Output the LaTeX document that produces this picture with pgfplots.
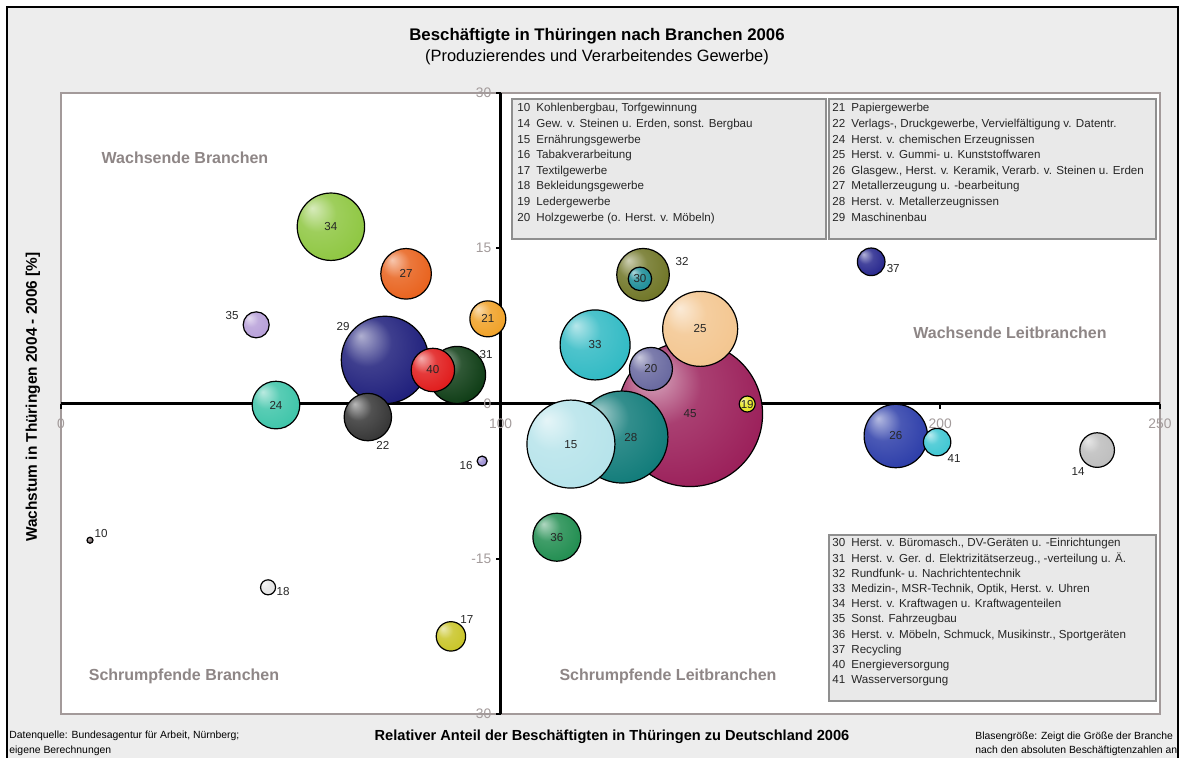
\documentclass[border=0pt]{standalone}
\usepackage{pgfplots}
\pgfplotsset{compat=1.18}
\usepackage{pgfplotstable}
\usepackage{fontspec}
\setmainfont{Liberation Sans}

\definecolor{panel}{HTML}{EDEDED}
\definecolor{plotframe}{HTML}{A39A9A}
\definecolor{ticktext}{HTML}{A39B9B}
\definecolor{quad}{HTML}{8E8686}
\definecolor{boxfill}{HTML}{E9E9E9}
\definecolor{boxline}{HTML}{8F8F8F}
\colorlet{bubc}{gray}

% bubble colours by branch number
\definecolor{b10}{HTML}{807070}
\definecolor{b14}{HTML}{BDBDBD}
\definecolor{b15}{HTML}{B5E3EA}
\definecolor{b16}{HTML}{9A8CD2}
\definecolor{b17}{HTML}{C8C424}
\definecolor{b18}{HTML}{E4E4E4}
\definecolor{b19}{HTML}{E6E61E}
\definecolor{b20}{HTML}{66669E}
\definecolor{b21}{HTML}{F0A024}
\definecolor{b22}{HTML}{333333}
\definecolor{b24}{HTML}{3CC4A8}
\definecolor{b25}{HTML}{F3C58E}
\definecolor{b26}{HTML}{2A3BA8}
\definecolor{b27}{HTML}{E8601A}
\definecolor{b28}{HTML}{0E7A78}
\definecolor{b29}{HTML}{1C1C7A}
\definecolor{b30}{HTML}{1A8C96}
\definecolor{b31}{HTML}{0B3A12}
\definecolor{b32}{HTML}{6E7424}
\definecolor{b33}{HTML}{2EB9C3}
\definecolor{b34}{HTML}{8DC63F}
\definecolor{b35}{HTML}{B69ED8}
\definecolor{b36}{HTML}{1E8C4E}
\definecolor{b37}{HTML}{24248C}
\definecolor{b40}{HTML}{E01818}
\definecolor{b41}{HTML}{3CC6D2}
\definecolor{b45}{HTML}{9A1D58}

% shaded bubble with black outline
\pgfdeclareradialshading[bubc]{bubble}{\pgfpoint{-14bp}{14bp}}{%
  color(0bp)=(bubc!35!white); color(14bp)=(bubc!85!white);
  color(34bp)=(bubc); color(52bp)=(bubc!78!black)}
\pgfdeclareplotmark{bubble}{%
  \pgfpathcircle{\pgfpointorigin}{\pgfplotmarksize}%
  \pgfshadepath{bubble}{0}%
  \pgfpathcircle{\pgfpointorigin}{\pgfplotmarksize}%
  \pgfusepath{stroke}}

% id, x, y, radius (pt), label position
\pgfplotstableread{
id x y r lx ly
45 143.1 -1.02 36.25 143.1 -1.02
28 127.6 -3.24 23 129.65 -3.24
15 116.0 -3.92 22 116.0 -3.92
29 73.7 4.21 21.85 64.15 7.40
25 145.4 7.21 18.75 145.4 7.21
33 121.5 5.66 17.5 121.5 5.66
34 61.4 17.08 16.85 61.4 17.08
26 189.9 -3.14 15.85 189.9 -3.14
31 90.1 2.76 14.25 96.70 4.69
32 132.4 12.44 13.15 141.27 13.70
27 78.5 12.53 12.65 78.5 12.53
36 112.8 -12.92 12 112.8 -12.92
24 48.9 -0.15 11.9 48.9 -0.15
22 69.8 -1.31 11.85 73.21 -4.01
40 84.6 3.24 10.85 84.6 3.24
20 134.2 3.34 10.75 134.2 3.34
21 97.1 8.18 9 97.1 8.18
14 235.7 -4.50 8.65 231.38 -6.53
17 88.7 -22.5 7.35 92.34 -20.86
37 184.3 13.69 6.9 189.31 13.01
41 199.3 -3.73 6.85 203.17 -5.28
35 44.4 7.60 6.5 38.94 8.47
30 131.7 12.05 5.85 131.7 12.05
19 156.1 -0.05 4 156.1 -0.05
18 47.1 -17.76 3.75 50.51 -18.15
16 95.8 -5.56 2.5 92.16 -5.95
10 6.6 -13.21 1.5 9.10 -12.53
}\bubbles

\begin{document}
\begin{tikzpicture}
% background, frame, titles (pixel coordinates)
\begin{scope}[x=0.5pt,y=-0.5pt]
  \path (0,0) rectangle (1185,758);
  \fill[panel] (7,7) rectangle (1178,758);
  \draw[black,line width=0.8pt] (7,758) -- (7,7) -- (1178,7) -- (1178,758);
  \filldraw[fill=white,draw=plotframe,line width=0.7pt] (61,93) rectangle (1160,714);
  \node[font=\fontsize{8.4}{10}\selectfont\bfseries] at (597,36) {Beschäftigte in Thüringen nach Branchen 2006};
  \node[font=\fontsize{8.2}{10}\selectfont] at (597,57) {(Produzierendes und Verarbeitendes Gewerbe)};
  \node[rotate=90,font=\fontsize{7.7}{9}\selectfont\bfseries] at (33,397) {Wachstum in Thüringen 2004 - 2006 [\%]};
  \node[font=\fontsize{7.3}{9}\selectfont\bfseries] at (612,737) {Relativer Anteil der Beschäftigten in Thüringen zu Deutschland 2006};
  \begin{scope}[font=\fontsize{5.2}{6}\selectfont,inner sep=0pt]
    \node[anchor=west] at (9,736) {Datenquelle: Bundesagentur für Arbeit, Nürnberg;};
    \node[anchor=west] at (9,751) {eigene Berechnungen};
    \node[anchor=west] at (975,737) {Blasengröße: Zeigt die Größe der Branche};
    \node[anchor=west] at (975,751) {nach den absoluten Beschäftigtenzahlen an};
  \end{scope}
  \begin{scope}[font=\fontsize{8}{10}\selectfont\bfseries,text=quad]
    \node at (185,158) {Wachsende Branchen};
    \node at (1010,333) {Wachsende Leitbranchen};
    \node at (184,676) {Schrumpfende Branchen};
    \node at (668,676) {Schrumpfende Leitbranchen};
  \end{scope}
\end{scope}

\begin{axis}[
  at={(30.5pt,-357pt)}, anchor=south west,
  scale only axis, width=549.5pt, height=310.5pt,
  xmin=0, xmax=250, ymin=-30, ymax=30,
  axis lines=none, clip=false,
]
  % cross of axes at (100,0)
  \draw[line width=1.2pt] (axis cs:0,0) -- (axis cs:250,0);
  \draw[line width=1.2pt] (axis cs:100,-30) -- (axis cs:100,30);
  \pgfplotsinvokeforeach{0,50,100,150,200,250}{
    \draw[line width=0.8pt] (axis cs:#1,0) -- ++(0pt,-2.5pt);
  }
  \pgfplotsinvokeforeach{-30,-15,0,15,30}{
    \draw[line width=0.8pt] (axis cs:100,#1) -- ++(-2.5pt,0pt);
  }

  % bubbles, drawn largest first
  \addplot[scatter, only marks, mark=bubble,
    visualization depends on={\thisrow{r}\as\bubR},
    visualization depends on={\thisrow{id}\as\bubI},
    scatter/@pre marker code/.code={%
      \pgfmathtruncatemacro\bubN{\bubI}%
      \colorlet{bubc}{b\bubN}%
      \pgfsetplotmarksize{\bubR pt}%
      \pgfsetstrokecolor{black}%
      \pgfsetlinewidth{0.6pt}},
    scatter/@post marker code/.code={},
  ] table[x=x,y=y] {\bubbles};

  % bubble numbers
  \addplot[only marks, mark=none, point meta=explicit symbolic,
    nodes near coords,
    nodes near coords style={anchor=center, font=\fontsize{5.8}{7}\selectfont,
      text=black!85, inner sep=0pt},
  ] table[x=lx,y=ly,meta=id] {\bubbles};

  % tick labels
  \pgfplotsinvokeforeach{0,50,100,150,200,250}{
    \node[text=ticktext,font=\fontsize{6.9}{8}\selectfont,inner sep=0pt,yshift=-10pt] at (axis cs:#1,0) {#1};
  }
  \pgfplotsinvokeforeach{-30,-15,0,15,30}{
    \node[text=ticktext,font=\fontsize{6.9}{8}\selectfont,inner sep=0pt,anchor=east,xshift=-4.5pt] at (axis cs:100,#1) {#1};
  }
\end{axis}

% lists of branches
\begin{scope}[x=0.5pt,y=-0.5pt]
  \filldraw[fill=boxfill,draw=boxline,line width=0.7pt] (512,99) rectangle (826,239);
  \filldraw[fill=boxfill,draw=boxline,line width=0.7pt] (829,99) rectangle (1156,239);
  \filldraw[fill=boxfill,draw=boxline,line width=0.7pt] (829,535) rectangle (1156,701);
  \begin{scope}[font=\fontsize{5.8}{7}\selectfont,inner sep=0pt,text=black!85]
    \foreach \n/\t [count=\i from 0] in {%
      10/{Kohlenbergbau, Torfgewinnung},
      14/{Gew. v. Steinen u. Erden, sonst. Bergbau},
      15/{Ernährungsgewerbe},
      16/{Tabakverarbeitung},
      17/{Textilgewerbe},
      18/{Bekleidungsgewerbe},
      19/{Ledergewerbe},
      20/{Holzgewerbe (o. Herst. v. Möbeln)}}
      {\node[anchor=base west] at (517,112+15.6*\i) {\n};
       \node[anchor=base west] at (536,112+15.6*\i) {\t};}
    \foreach \n/\t [count=\i from 0] in {%
      21/{Papiergewerbe},
      22/{Verlags-, Druckgewerbe, Vervielfältigung v. Datentr.},
      24/{Herst. v. chemischen Erzeugnissen},
      25/{Herst. v. Gummi- u. Kunststoffwaren},
      26/{Glasgew., Herst. v. Keramik, Verarb. v. Steinen u. Erden},
      27/{Metallerzeugung u. -bearbeitung},
      28/{Herst. v. Metallerzeugnissen},
      29/{Maschinenbau}}
      {\node[anchor=base west] at (832,112+15.6*\i) {\n};
       \node[anchor=base west] at (851,112+15.6*\i) {\t};}
    \foreach \n/\t [count=\i from 0] in {%
      30/{Herst. v. Büromasch., DV-Geräten u. -Einrichtungen},
      31/{Herst. v. Ger. d. Elektrizitätserzeug., -verteilung u. Ä.},
      32/{Rundfunk- u. Nachrichtentechnik},
      33/{Medizin-, MSR-Technik, Optik, Herst. v. Uhren},
      34/{Herst. v. Kraftwagen u. Kraftwagenteilen},
      35/{Sonst. Fahrzeugbau},
      36/{Herst. v. Möbeln, Schmuck, Musikinstr., Sportgeräten},
      37/{Recycling},
      40/{Energieversorgung},
      41/{Wasserversorgung}}
      {\node[anchor=base west] at (832,547+15.2*\i) {\n};
       \node[anchor=base west] at (851,547+15.2*\i) {\t};}
  \end{scope}
\end{scope}
\end{tikzpicture}
\end{document}
